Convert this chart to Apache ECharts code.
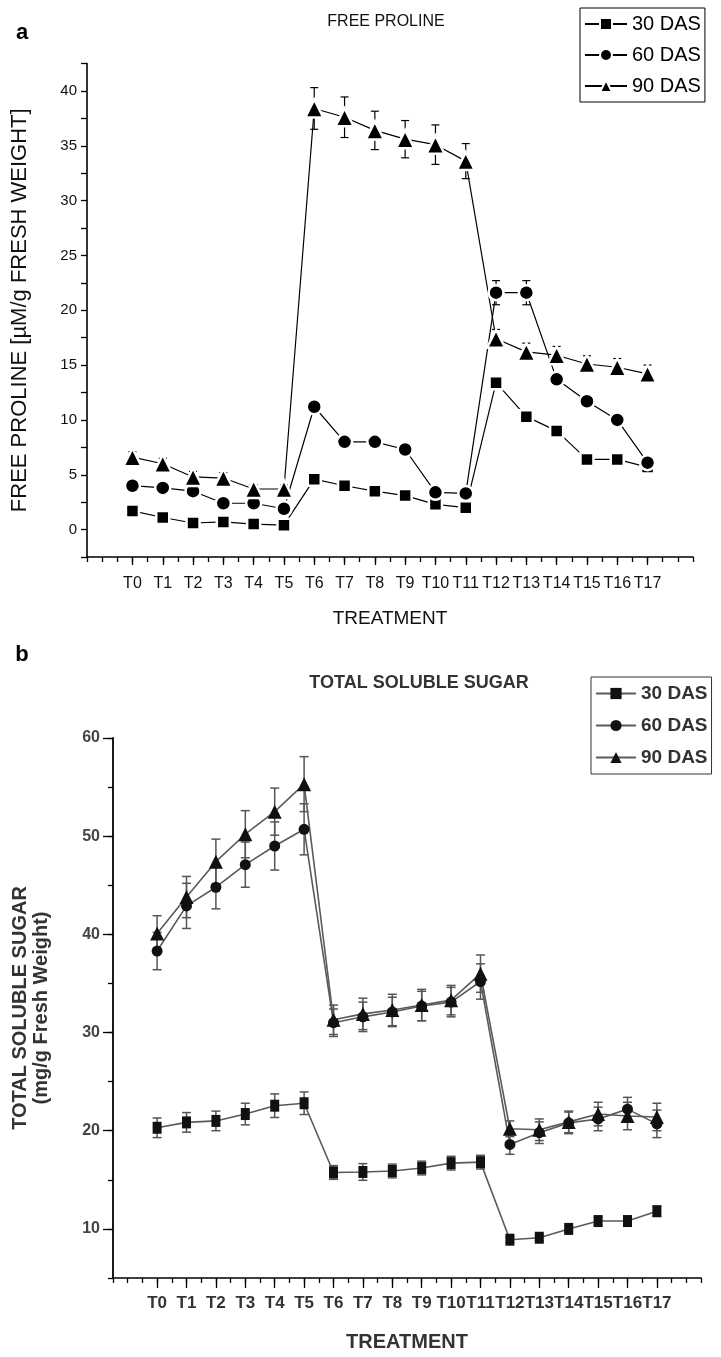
<!DOCTYPE html>
<html>
<head>
<meta charset="utf-8">
<script src="https://cdn.jsdelivr.net/npm/echarts@6/dist/echarts.min.js"></script>
<style>
  html, body { margin: 0; padding: 0; background: #fff; }
  #chart { width: 721px; height: 1357px; }
</style>
</head>
<body>
<div id="chart"></div>
<script>
const treatments = ['T0', 'T1', 'T2', 'T3', 'T4', 'T5', 'T6', 'T7', 'T8', 'T9',
  'T10', 'T11', 'T12', 'T13', 'T14', 'T15', 'T16', 'T17']
const seriesNames = ['30 DAS', '60 DAS', '90 DAS']

// panel a: free proline (µM/g fresh weight)
const proline30 = [1.7, 1.1, 0.6, 0.7, 0.5, 0.4, 4.6, 4.0, 3.5, 3.1, 2.3, 2.0, 13.4, 10.3, 9.0, 6.4, 6.4, 5.7]
const proline60 = [4.0, 3.8, 3.5, 2.4, 2.4, 1.9, 11.2, 8.0, 8.0, 7.3, 3.4, 3.3, 21.6, 21.6, 13.7, 11.7, 10.0, 6.1]
const proline90 = [6.6, 6.0, 4.8, 4.7, 3.7, 3.7, 38.4, 37.6, 36.4, 35.6, 35.1, 33.6, 17.4, 16.2, 15.9, 15.1, 14.8, 14.2]
const prolineErr30 = [0.3, 0.3, 0.3, 0.3, 0.3, 0.3, 0.3, 0.3, 0.3, 0.3, 0.3, 0.3, 0.4, 0.3, 0.3, 0.3, 0.3, 0.3]
const prolineErr60 = [0.3, 0.3, 0.3, 0.3, 0.3, 0.3, 0.4, 0.4, 0.4, 0.4, 0.3, 0.3, 1.1, 1.1, 0.4, 0.4, 0.4, 0.3]
const prolineErr90 = [0.5, 0.5, 0.5, 0.5, 0.4, 0.4, 1.9, 1.85, 1.75, 1.7, 1.8, 1.6, 0.85, 0.8, 0.8, 0.75, 0.8, 0.8]

// panel b: total soluble sugar (mg/g fresh weight)
const sugar30 = [20.3, 20.85, 21.0, 21.7, 22.55, 22.8, 15.75, 15.8, 15.9, 16.2, 16.7, 16.8, 8.9, 9.1, 10.0, 10.8, 10.8, 11.8]
const sugar60 = [38.3, 42.9, 44.8, 47.1, 49.0, 50.7, 31.0, 31.6, 32.1, 32.7, 33.1, 35.2, 18.6, 19.8, 20.8, 21.2, 22.2, 20.7]
const sugar90 = [40.1, 43.8, 47.4, 50.2, 52.5, 55.3, 31.3, 31.9, 32.3, 32.8, 33.3, 36.0, 20.2, 20.1, 20.9, 21.7, 21.5, 21.4]
const sugarErr30 = [1.0, 1.0, 1.0, 1.1, 1.2, 1.15, 0.7, 0.85, 0.7, 0.7, 0.7, 0.7, 0.3, 0.3, 0.3, 0.4, 0.4, 0.5]
const sugarErr60 = [1.9, 2.3, 2.2, 2.3, 2.45, 2.6, 1.4, 1.5, 1.5, 1.5, 1.5, 1.8, 1.0, 1.1, 1.1, 1.2, 1.2, 1.4]
const sugarErr90 = [1.8, 2.1, 2.3, 2.4, 2.4, 2.8, 1.5, 1.6, 1.6, 1.6, 1.5, 1.9, 0.8, 1.1, 1.1, 1.2, 1.4, 1.4]

const symbols = ['rect', 'circle', 'triangle']
const fontA = '"Liberation Sans", Arial, sans-serif'
const fontB = '"Liberation Sans Narrow", "Liberation Sans", Arial, sans-serif'
const intTicks = treatments.map((t, i) => i)

function points(values) {
  return values.map((v, i) => [i, v])
}

function errPoints(values, errs) {
  return values.map((v, i) => [i, v - errs[i], v + errs[i]])
}

function errorBars(capHalf, color, width) {
  return function (params, api) {
    const x = api.value(0)
    const lo = api.coord([x, api.value(1)])
    const hi = api.coord([x, api.value(2)])
    const style = { stroke: color, lineWidth: width }
    return {
      type: 'group',
      children: [
        { type: 'line', shape: { x1: lo[0], y1: lo[1], x2: hi[0], y2: hi[1] }, style },
        { type: 'line', shape: { x1: lo[0] - capHalf, y1: lo[1], x2: lo[0] + capHalf, y2: lo[1] }, style },
        { type: 'line', shape: { x1: hi[0] - capHalf, y1: hi[1], x2: hi[0] + capHalf, y2: hi[1] }, style },
      ],
    }
  }
}

function xAxes(gridIndex, font, bold, color, margin, nameGap, labelSize, nameSize, longTick) {
  return [
    {
      gridIndex,
      type: 'value',
      position: 'bottom',
      min: -1.5,
      max: 18.5,
      interval: 0.5,
      name: 'TREATMENT',
      nameLocation: 'middle',
      nameGap,
      nameTextStyle: { fontFamily: font, fontSize: nameSize, fontWeight: bold ? 'bold' : 'normal', color },
      axisLine: { onZero: false, lineStyle: { color: '#000', width: 1.6 } },
      axisTick: { length: 5, lineStyle: { color: '#000', width: 1.3 } },
      axisLabel: {
        margin,
        fontFamily: font,
        fontSize: labelSize,
        fontWeight: bold ? 'bold' : 'normal',
        color,
        formatter: (v) => (Number.isInteger(v) && v >= 0 && v < treatments.length ? treatments[v] : ''),
      },
      splitLine: { show: false },
    },
    {
      gridIndex,
      type: 'value',
      position: 'bottom',
      min: -1.5,
      max: 18.5,
      axisLine: { show: false, onZero: false },
      axisTick: { length: longTick, customValues: intTicks, lineStyle: { color: '#000', width: 1.3 } },
      axisLabel: { show: false },
      splitLine: { show: false },
    },
  ]
}

const chart = echarts.init(document.getElementById('chart'))

const prolineSets = [proline30, proline60, proline90]
const prolineErrs = [prolineErr30, prolineErr60, prolineErr90]
const sugarSets = [sugar30, sugar60, sugar90]
const sugarErrs = [sugarErr30, sugarErr60, sugarErr90]
const sizesA = [13, 15, 18]
const sizesB = [[9, 12], 11, 14]

const series = []
prolineSets.forEach((vals, k) => {
  series.push({
    type: 'custom',
    xAxisIndex: 0,
    yAxisIndex: 0,
    z: 1,
    silent: true,
    renderItem: errorBars(4, '#000', 1.2),
    encode: { x: 0, y: [1, 2] },
    data: errPoints(vals, prolineErrs[k]),
  })
})
prolineSets.forEach((vals, k) => {
  series.push({
    name: seriesNames[k],
    type: 'line',
    xAxisIndex: 0,
    yAxisIndex: 0,
    z: 3,
    symbol: symbols[k],
    symbolSize: sizesA[k],
    lineStyle: { color: '#000', width: 1.2 },
    itemStyle: { color: '#000', borderColor: '#fff', borderWidth: 2.5 },
    animation: false,
    data: points(vals),
  })
})
sugarSets.forEach((vals, k) => {
  series.push({
    type: 'custom',
    xAxisIndex: 2,
    yAxisIndex: 2,
    z: 1,
    silent: true,
    renderItem: errorBars(4.5, '#555', 1.5),
    encode: { x: 0, y: [1, 2] },
    data: errPoints(vals, sugarErrs[k]),
  })
})
sugarSets.forEach((vals, k) => {
  series.push({
    name: seriesNames[k] + ' ',
    type: 'line',
    xAxisIndex: 2,
    yAxisIndex: 2,
    z: 3,
    symbol: symbols[k],
    symbolSize: sizesB[k],
    lineStyle: { color: '#5a5a5a', width: 1.6 },
    itemStyle: { color: '#111' },
    animation: false,
    data: points(vals),
  })
})

const option = {
  animation: false,
  backgroundColor: '#fff',
  grid: [
    { left: 87, top: 63.5, width: 606, height: 493.5 },
    { left: 113, top: 738, width: 588, height: 540 },
  ],
  xAxis: [
    ...xAxes(0, fontA, false, '#111', 19, 52, 16, 19, 8),
    ...xAxes(1, fontB, true, '#333', 17, 54, 17, 20, 10),
  ],
  yAxis: [
    {
      gridIndex: 0,
      type: 'value',
      position: 'left',
      min: -2.5,
      max: 42.5,
      interval: 2.5,
      name: 'FREE PROLINE [µM/g FRESH WEIGHT]',
      nameLocation: 'middle',
      nameGap: 56,
      nameTextStyle: { fontFamily: fontA, fontSize: 22, color: '#111' },
      axisLine: { onZero: false, lineStyle: { color: '#000', width: 1.6 } },
      axisTick: { length: 6, lineStyle: { color: '#000', width: 1.3 } },
      axisLabel: {
        margin: 10,
        fontFamily: fontA,
        fontSize: 15,
        color: '#111',
        formatter: (v) => (v >= 0 && v % 5 === 0 ? String(v) : ''),
      },
      splitLine: { show: false },
    },
    {
      gridIndex: 0,
      type: 'value',
      min: -2.5,
      max: 42.5,
      show: false,
    },
    {
      gridIndex: 1,
      type: 'value',
      position: 'left',
      min: 5,
      max: 60,
      interval: 5,
      name: 'TOTAL SOLUBLE SUGAR\n(mg/g Fresh Weight)',
      nameLocation: 'middle',
      nameGap: 61,
      nameTextStyle: { fontFamily: fontA, fontSize: 20, fontWeight: 'bold', color: '#333', lineHeight: 21 },
      axisLine: { onZero: false, lineStyle: { color: '#000', width: 1.8 } },
      axisTick: { length: 5, lineStyle: { color: '#000', width: 1.3 } },
      axisLabel: {
        margin: 13,
        fontFamily: fontB,
        fontSize: 16,
        fontWeight: 'bold',
        color: '#444',
        formatter: (v) => (v % 10 === 0 ? String(v) : ''),
      },
      splitLine: { show: false },
    },
    {
      gridIndex: 1,
      type: 'value',
      position: 'left',
      min: 5,
      max: 60,
      axisLine: { show: false, onZero: false },
      axisTick: { length: 10, customValues: [10, 20, 30, 40, 50, 60], lineStyle: { color: '#000', width: 1.3 } },
      axisLabel: { show: false },
      splitLine: { show: false },
    },
  ],
  legend: [
    {
      data: seriesNames,
      orient: 'vertical',
      left: 580,
      top: 8,
      itemGap: 11,
      itemWidth: 42,
      itemHeight: 15,
      padding: [6, 4, 6, 4],
      borderColor: '#000',
      borderWidth: 1,
      textStyle: { fontFamily: fontA, fontSize: 20, color: '#000' },
    },
    {
      data: seriesNames.map((n) => n + ' '),
      orient: 'vertical',
      left: 591,
      top: 677,
      itemGap: 13,
      itemWidth: 40,
      itemHeight: 14,
      padding: [7, 4, 7, 4],
      borderColor: '#333',
      borderWidth: 1,
      formatter: (n) => n.trim(),
      textStyle: { fontFamily: fontB, fontSize: 19, fontWeight: 'bold', color: '#333' },
    },
  ],
  graphic: [
    { type: 'text', x: 22, y: 33, style: { text: 'a', font: 'bold 22px ' + fontA, fill: '#000', textAlign: 'center', textVerticalAlign: 'middle' } },
    { type: 'text', x: 386, y: 22, style: { text: 'FREE PROLINE', font: '16px ' + fontA, fill: '#111', textAlign: 'center', textVerticalAlign: 'middle' } },
    { type: 'text', x: 22, y: 655, style: { text: 'b', font: 'bold 22px ' + fontA, fill: '#000', textAlign: 'center', textVerticalAlign: 'middle' } },
    { type: 'text', x: 419, y: 683, style: { text: 'TOTAL SOLUBLE SUGAR', font: 'bold 18px ' + fontB, fill: '#333', textAlign: 'center', textVerticalAlign: 'middle' } },
  ],
  series,
}

chart.setOption(option)
</script>
</body>
</html>
